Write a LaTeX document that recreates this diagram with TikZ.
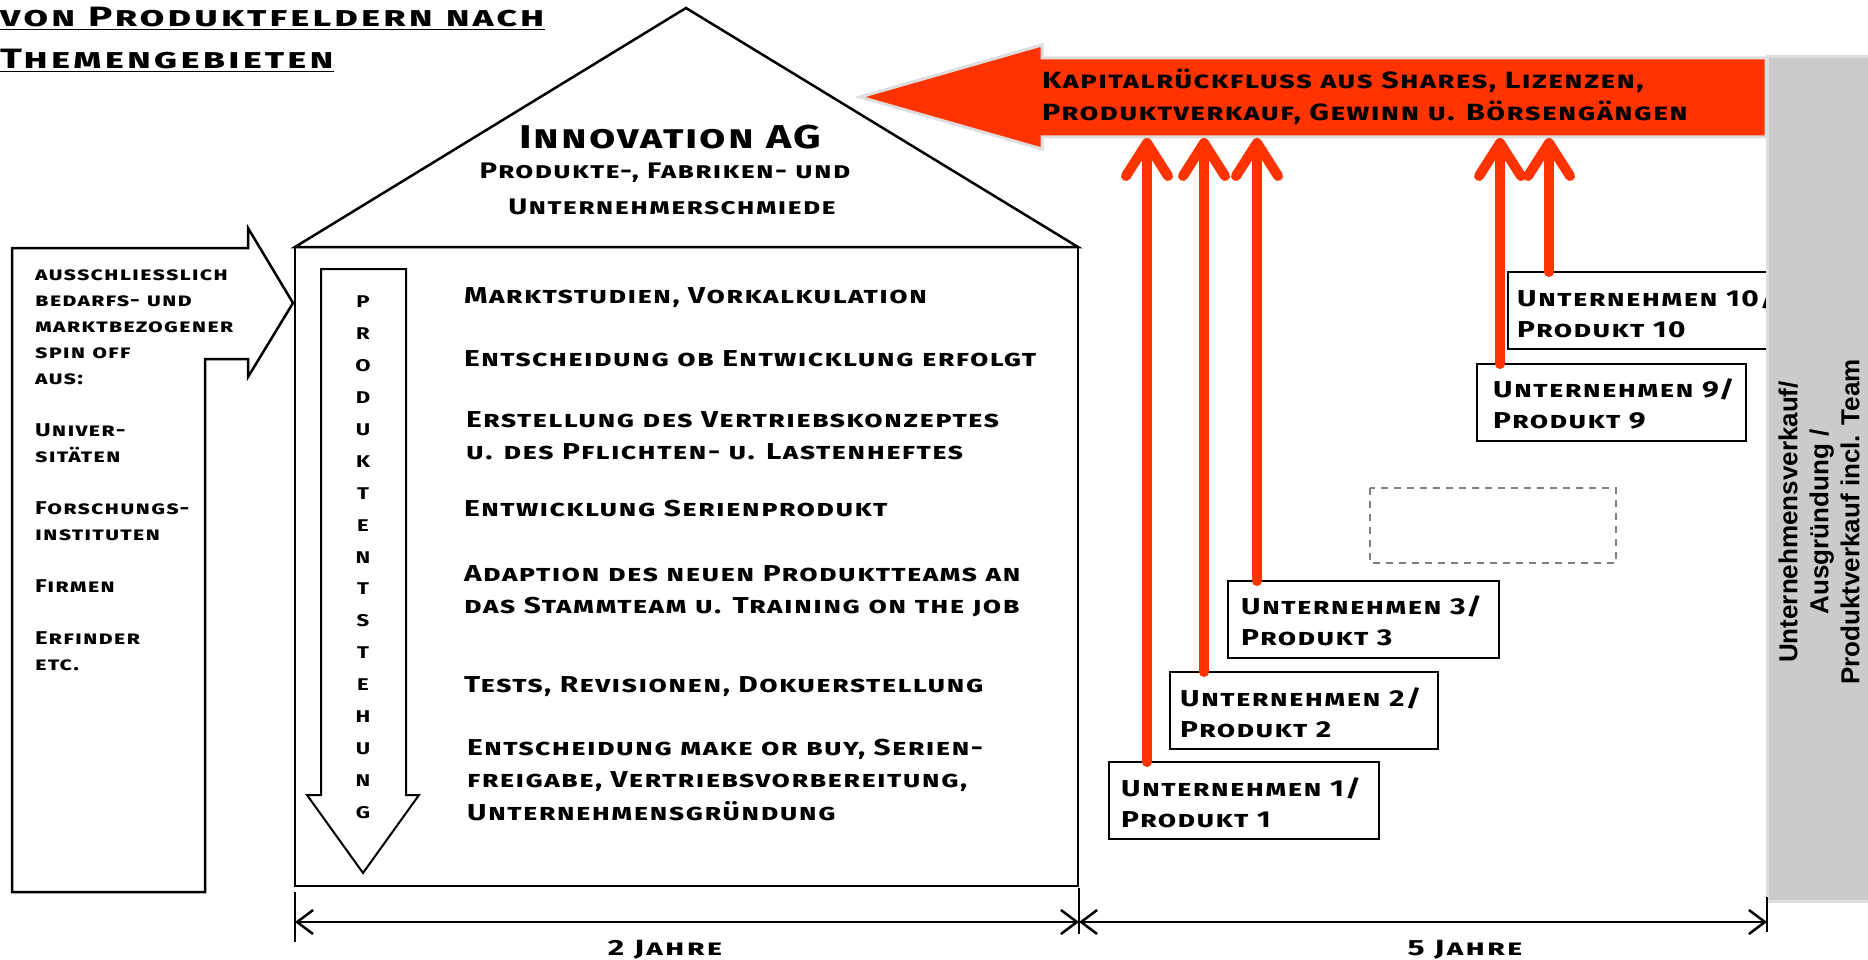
\documentclass[tikz,border=0pt]{standalone}
\usepackage{fontspec}
\usetikzlibrary{arrows.meta}
\newfontfamily\bankfont{Fira Sans}[Letters=SmallCaps, FakeStretch=1.3, LetterSpace=6]
\newfontfamily\widefont{Fira Sans}[Letters=SmallCaps, FakeStretch=1.45, LetterSpace=10]
\newfontfamily\arialbold{Liberation Sans}
\definecolor{kred}{HTML}{FF3300}
\definecolor{kgray}{HTML}{CBCBCB}
\definecolor{kedge}{HTML}{DDDDDD}
\tikzset{
  outline/.style={draw=black, line width=2.5pt},
  bank/.style={inner sep=0pt, font=\bankfont\bfseries\fontsize{#1}{#1}\selectfont},
  wide/.style={inner sep=0pt, font=\widefont\bfseries\fontsize{#1}{#1}\selectfont},
  steptext/.style={bank=23, anchor=west, align=left},
  firmbox/.style={outline, fill=white},
  firmtext/.style={bank=23, anchor=west, align=left},
  lefttext/.style={bank=18.5, anchor=north west, align=left},
  flow/.style={draw=kred, line width=10pt, line cap=round,
    -{Straight Barb[length=33pt, width=42pt, round]}},
  dimline/.style={draw=black, line width=2.5pt,
    {Straight Barb[length=16pt, width=24pt]}-{Straight Barb[length=16pt, width=24pt]}},
  tick/.style={draw=black, line width=2.5pt},
}
\begin{document}
\begin{tikzpicture}[x=1pt, y=-1pt]
\useasboundingbox (0,0) rectangle (1868,960);

% title
\node[wide=28, anchor=base west] (title1) at (0,27) {\underline{von Produktfeldern nach}};
\node[wide=28, anchor=base west] (title2) at (0,69) {\underline{Themengebieten}};

% house
\draw[outline, line join=miter] (295,247) -- (686,8) -- (1078,247) -- cycle;
\draw[outline] (295,247) rectangle (1078,886);

\node[bank=33] (innov) at (670,137) {Innovation AG};
\node[bank=22.5] (schm1) at (665,173) {Produkte-, Fabriken- und};
\node[bank=22.5] (schm2) at (672,207) {Unternehmerschmiede};

% left input arrow box
\draw[outline, fill=white] (12,248) -- (248,248) -- (248,228) -- (293,303) -- (248,377)
  -- (248,359) -- (205,359) -- (205,892) -- (12,892) -- cycle;
\node[lefttext] (src) at (35,270) {%
ausschliesslich\\[7.5pt]bedarfs- und\\[7.5pt]marktbezogener\\[7.5pt]spin off\\[7.5pt]aus:\\[33.5pt]%
Univer-\\[7.5pt]sitäten\\[33.5pt]Forschungs-\\[7.5pt]instituten\\[33.5pt]Firmen\\[33.5pt]Erfinder\\[7.5pt]etc.};

% Produktentstehung arrow
\draw[outline, line width=2pt, fill=white] (321,269) -- (406,269) -- (406,795) -- (419,795)
  -- (363,873) -- (307,795) -- (321,795) -- cycle;
\foreach \c [count=\i from 0] in {P,R,O,D,U,K,T,E,N,T,S,T,E,H,U,N,G}{
  \node[bank=17] (pe\i) at (363,{302+31.9*\i}) {\c};
}

% steps
\node[steptext] (s1) at (464,298) {Marktstudien, Vorkalkulation};
\node[steptext] (s2) at (464,359) {Entscheidung ob Entwicklung erfolgt};
\node[steptext] (s3) at (466,436) {Erstellung des Vertriebskonzeptes\\[9pt]u. des Pflichten- u. Lastenheftes};
\node[steptext] (s4) at (464,509) {Entwicklung Serienprodukt};
\node[steptext] (s5) at (464,591) {Adaption des neuen Produktteams an\\[9pt]das Stammteam u. Training on the job};
\node[steptext] (s6) at (464,687) {Tests, Revisionen, Dokuerstellung};
\node[steptext] (s7) at (467,780) {Entscheidung make or buy, Serien-\\[9pt]freigabe, Vertriebsvorbereitung,\\[9pt]Unternehmensgründung};

% big red return arrow
\draw[draw=kedge, line width=3pt, fill=kred, line join=miter] (1766,58) -- (1042,58) -- (1042,45) -- (860,97)
  -- (1042,149) -- (1042,137) -- (1766,137) -- cycle;
\node[bank=23.5, anchor=west, align=left] (ret) at (1042,97) {Kapitalrückfluss aus Shares, Lizenzen,\\[7.5pt]Produktverkauf, Gewinn u. Börsengängen};
\coordinate (r1) at (1147,138);
\coordinate (r2) at (1204,138);
\coordinate (r3) at (1257,138);
\coordinate (r9) at (1500,138);
\coordinate (r10) at (1549,138);

% company boxes
\draw[firmbox] (1109,762) rectangle (1379,839);
\node[firmtext] (u1) at (1121,803) {Unternehmen 1/\\[8pt]Produkt 1};
\draw[firmbox] (1170,672) rectangle (1438,749);
\node[firmtext] (u2) at (1180,713) {Unternehmen 2/\\[8pt]Produkt 2};
\draw[firmbox] (1228,581) rectangle (1499,658);
\node[firmtext] (u3) at (1241,621) {Unternehmen 3/\\[8pt]Produkt 3};
\draw[firmbox] (1477,364) rectangle (1746,441);
\node[firmtext] (u9) at (1493,404) {Unternehmen 9/\\[8pt]Produkt 9};
\draw[firmbox] (1508,272) rectangle (1800,349);
\node[firmtext] (u10) at (1517,313) {Unternehmen 10/\\[8pt]Produkt 10};
\draw[draw=gray, line width=2pt, dash pattern=on 7pt off 6pt] (1370,488) rectangle (1616,563);

\coordinate (b1) at (1147,762);
\coordinate (b2) at (1204,672);
\coordinate (b3) at (1257,581);
\coordinate (b9) at (1500,364);
\coordinate (b10) at (1549,272);
\draw[flow] (b1) -- (r1);
\draw[flow] (b2) -- (r2);
\draw[flow] (b3) -- (r3);
\draw[flow] (b9) -- (r9);
\draw[flow] (b10) -- (r10);

% gray exit bar
\fill[kedge] (1766,55) rectangle (1868,903);
\fill[kgray] (1769,58) rectangle (1868,900);
\node[rotate=90, align=center, inner sep=0pt, font=\arialbold\bfseries\fontsize{26}{31}\selectfont] (exit) at (1819,522)
  {Unternehmensverkauf/\\Ausgründung /\\Produktverkauf incl. Team};

% time dimension
\coordinate (d0) at (295,922);
\coordinate (d1) at (1079,922);
\coordinate (d2) at (1767,922);
\draw[tick] (295,892) -- (295,942);
\draw[tick] (1079,888) -- (1079,934);
\draw[tick] (1767,897) -- (1767,932);
\draw[dimline] (d0) -- (d1);
\draw[dimline] (d1) -- (d2);
\node[wide=22] (j2) at (665,950) {2 Jahre};
\node[wide=22] (j5) at (1465,950) {5 Jahre};
\end{tikzpicture}
\end{document}
